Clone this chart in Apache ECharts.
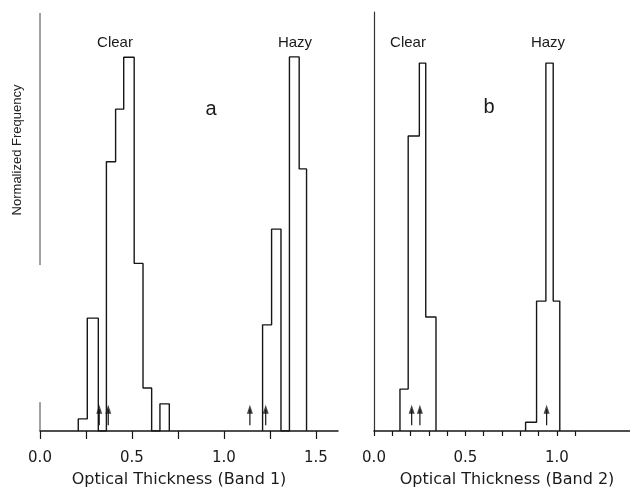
<!DOCTYPE html>
<html>
<head>
<meta charset="utf-8">
<script src="https://cdn.jsdelivr.net/npm/echarts@6/dist/echarts.min.js"></script>
<style>html,body{margin:0;padding:0;background:#fff;}#c{width:630px;height:488px;}</style>
</head>
<body>
<div id="c"></div>
<script>
// ---- data (optical thickness bin edges and normalized frequencies) ----
const aClearEdges   = [0.208, 0.257, 0.317, 0.361, 0.411, 0.455, 0.512, 0.560, 0.607, 0.652, 0.703];
const aClearHeights = [0.029, 0.270, 0,     0.644, 0.770, 0.894, 0.401, 0.103, 0,     0.065];
const aHazyEdges    = [1.210, 1.259, 1.310, 1.356, 1.409, 1.449];
const aHazyHeights  = [0.254, 0.483, 0,     0.895, 0.627];
const bClearEdges   = [0.142, 0.187, 0.248, 0.283, 0.339];
const bClearHeights = [0.100, 0.704, 0.878, 0.272];
const bHazyEdges    = [0.829, 0.889, 0.940, 0.980, 1.016];
const bHazyHeights  = [0.021, 0.310, 0.878, 0.310];
const aArrows = [0.322, 0.371, 1.141, 1.227];
const bArrows = [0.206, 0.251, 0.944];
const arrowBase = 0.014, arrowTip = 0.052;
const aTickValues  = [0, 0.25, 0.5, 0.75, 1.0, 1.25, 1.5];
const aLabelValues = [0, 0.5, 1.0, 1.5];
const bTickValues  = [0, 0.1, 0.2, 0.3, 0.4, 0.5, 0.6, 0.7, 0.8, 0.9, 1.0, 1.1];
const bLabelValues = [0, 0.5, 1.0];
const aYAxisSegments = [[0, 0.069], [0.397, 1.0]];

function steps(edges, heights) {
  const pts = [[edges[0], 0]];
  for (let i = 0; i < heights.length; i++) {
    pts.push([edges[i], heights[i]], [edges[i + 1], heights[i]]);
  }
  pts.push([edges[edges.length - 1], 0]);
  return pts;
}

const INK = '#161616';
const histLine = (grid, data) => ({
  type: 'line', xAxisIndex: grid, yAxisIndex: grid, data: data,
  showSymbol: false, symbol: 'none', silent: true,
  lineStyle: { color: INK, width: 1.4 }
});

const series = [
  histLine(0, steps(aClearEdges, aClearHeights)),
  histLine(0, steps(aHazyEdges, aHazyHeights)),
  histLine(1, steps(bClearEdges, bClearHeights)),
  histLine(1, steps(bHazyEdges, bHazyHeights))
];
aYAxisSegments.forEach(s => series.push({
  type: 'line', xAxisIndex: 0, yAxisIndex: 0, symbol: 'none', silent: true,
  data: [[0, s[0]], [0, s[1]]], lineStyle: { color: '#444', width: 1 }
}));
[[0, aArrows], [1, bArrows]].forEach(([g, arr]) => {
  arr.forEach(x => series.push({
    type: 'line', xAxisIndex: g, yAxisIndex: g, symbol: 'none', silent: true,
    data: [[x, arrowBase], [x, arrowTip]], lineStyle: { color: INK, width: 1.2 }
  }));
  series.push({
    type: 'scatter', xAxisIndex: g, yAxisIndex: g, silent: true,
    symbol: 'triangle', symbolSize: [6, 9],
    data: arr.map(x => [x, arrowTip]), itemStyle: { color: INK }
  });
});

const xAxisBase = (grid, max, ticks, labels, tickLen) => ({
  type: 'value', gridIndex: grid, min: 0, max: max,
  splitLine: { show: false },
  axisLine: { show: true, onZero: false, lineStyle: { color: INK, width: 1.5 } },
  axisTick: { show: true, inside: false, length: tickLen, customValues: ticks, lineStyle: { color: INK, width: 1.2 } },
  axisLabel: { show: true, customValues: labels, margin: 20, color: '#1a1a1a',
    fontFamily: 'DejaVu Sans', fontSize: 15, formatter: v => v.toFixed(1) }
});

const option = {
  animation: false,
  backgroundColor: '#fff',
  grid: [
    { left: 40, top: 13, width: 298, height: 418 },
    { left: 374, top: 12, width: 256, height: 419 }
  ],
  xAxis: [
    xAxisBase(0, 1.62, aTickValues, aLabelValues, 8),
    xAxisBase(1, 1.40, bTickValues, bLabelValues, 5)
  ],
  yAxis: [
    { type: 'value', gridIndex: 0, min: 0, max: 1, show: true,
      axisLine: { show: false }, axisTick: { show: false }, axisLabel: { show: false }, splitLine: { show: false } },
    { type: 'value', gridIndex: 1, min: 0, max: 1, show: true,
      axisLine: { show: true, lineStyle: { color: '#333', width: 1.2 } },
      axisTick: { show: false }, axisLabel: { show: false }, splitLine: { show: false } }
  ],
  series: series,
  graphic: [
    { type: 'text', x: 17, y: 150, rotation: Math.PI / 2,
      style: { text: 'Normalized Frequency', fill: '#222', font: '13px "Liberation Sans"', align: 'center', verticalAlign: 'middle' } },
    { type: 'text', x: 179, y: 480,
      style: { text: 'Optical Thickness (Band 1)', fill: '#1a1a1a', font: '16px "DejaVu Sans"', align: 'center', verticalAlign: 'middle' } },
    { type: 'text', x: 507, y: 480,
      style: { text: 'Optical Thickness (Band 2)', fill: '#1a1a1a', font: '16px "DejaVu Sans"', align: 'center', verticalAlign: 'middle' } },
    { type: 'text', x: 115, y: 43,
      style: { text: 'Clear', fill: '#1a1a1a', font: '15px "Liberation Sans"', align: 'center', verticalAlign: 'middle' } },
    { type: 'text', x: 295, y: 43,
      style: { text: 'Hazy', fill: '#1a1a1a', font: '15px "Liberation Sans"', align: 'center', verticalAlign: 'middle' } },
    { type: 'text', x: 408, y: 43,
      style: { text: 'Clear', fill: '#1a1a1a', font: '15px "Liberation Sans"', align: 'center', verticalAlign: 'middle' } },
    { type: 'text', x: 548, y: 43,
      style: { text: 'Hazy', fill: '#1a1a1a', font: '15px "Liberation Sans"', align: 'center', verticalAlign: 'middle' } },
    { type: 'text', x: 211, y: 109,
      style: { text: 'a', fill: '#1a1a1a', font: '20px "Liberation Sans"', align: 'center', verticalAlign: 'middle' } },
    { type: 'text', x: 489, y: 107,
      style: { text: 'b', fill: '#1a1a1a', font: '20px "Liberation Sans"', align: 'center', verticalAlign: 'middle' } }
  ]
};

const chart = echarts.init(document.getElementById('c'), null, { renderer: 'canvas' });
chart.setOption(option);
</script>
</body>
</html>
